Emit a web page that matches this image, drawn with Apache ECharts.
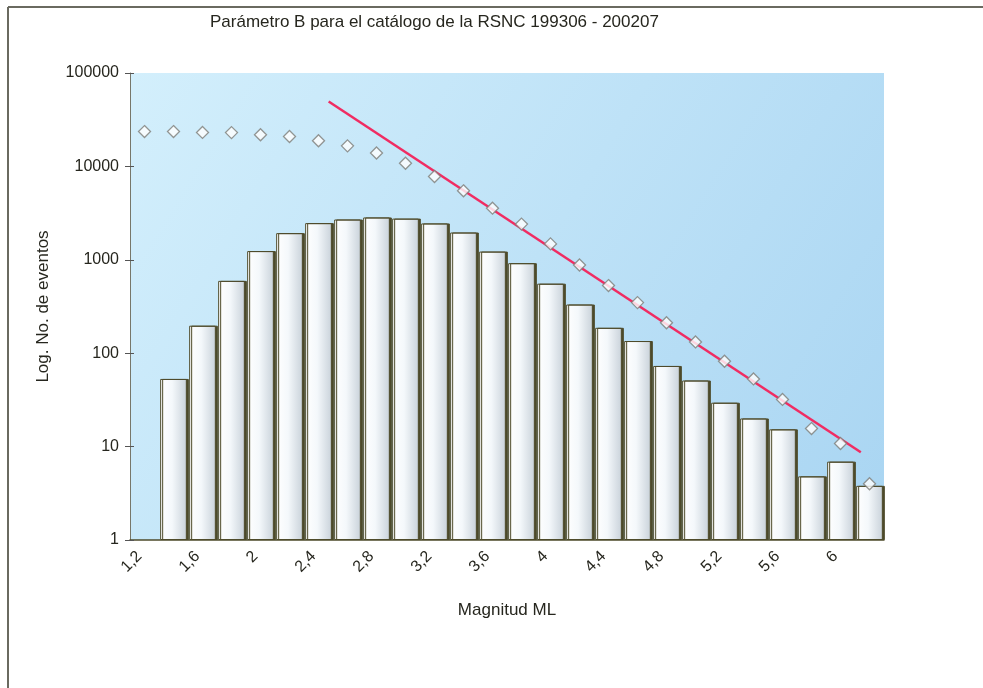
<!DOCTYPE html>
<html>
<head>
<meta charset="utf-8">
<title>Parámetro B</title>
<script src="https://cdn.jsdelivr.net/npm/echarts@6/dist/echarts.min.js"></script>
<style>
  html, body { margin: 0; padding: 0; background: #fff; }
  #chart { width: 983px; height: 688px; }
</style>
</head>
<body>
<div id="chart"></div>
<script>
// magnitudes (categories)
var magnitudes = ['1.2', '1.4', '1.6', '1.8', '2.0', '2.2', '2.4', '2.6', '2.8', '3.0', '3.2', '3.4', '3.6',
    '3.8', '4.0', '4.2', '4.4', '4.6', '4.8', '5.0', '5.2', '5.4', '5.6', '5.8', '6.0', '6.2'];
// eventos por magnitud (barras)
var eventCounts = [null, 53, 197, 595, 1240, 1930, 2470, 2700, 2840, 2760, 2450, 1960, 1225,
    920, 555, 332, 187, 135, 73, 51, 29.5, 20, 15.3, 4.8, 6.9, 3.8];
// acumulado (rombos)
var cumulative = [23600, 23600, 23100, 23000, 21800, 20900, 18800, 16600, 13900, 10800, 7800, 5480, 3570,
    2410, 1480, 880, 530, 348, 212, 132, 82, 53, 32, 15.6, 10.8, 4.0];
// recta de ajuste (Gutenberg-Richter)
var fitMagnitude = [2.47, 6.14];
var fitCount = [49600, 8.7];
var yTicks = [1, 10, 100, 1000, 10000, 100000];

var textColor = '#26261e';
var font = 'Liberation Sans, Arial, sans-serif';

var myChart = echarts.init(document.getElementById('chart'));

var option = {
    animation: false,
    backgroundColor: '#fff',
    title: {
        text: 'Parámetro B para el catálogo de la RSNC 199306 - 200207',
        left: 205,
        top: 9,
        textStyle: { fontFamily: font, fontSize: 17, fontWeight: 'normal', color: textColor }
    },
    graphic: [
        { type: 'line', shape: { x1: 8, y1: 7, x2: 8, y2: 688 }, style: { stroke: '#6a6a60', lineWidth: 2 } },
        { type: 'line', shape: { x1: 8, y1: 7, x2: 983, y2: 7 }, style: { stroke: '#6a6a60', lineWidth: 2 } }
    ],
    grid: {
        left: 130, right: 99, top: 73, bottom: 148,
        show: true,
        borderWidth: 0,
        backgroundColor: new echarts.graphic.LinearGradient(0, 0, 1, 1, [
            { offset: 0, color: '#d3effc' },
            { offset: 1, color: '#a9d5f2' }
        ])
    },
    xAxis: [{
        type: 'category',
        data: magnitudes,
        name: 'Magnitud ML',
        nameLocation: 'middle',
        nameGap: 62,
        nameTextStyle: { fontFamily: font, fontSize: 17, color: textColor },
        axisLine: { lineStyle: { color: '#4e4b2b', width: 1.5 } },
        axisTick: { interval: 0, length: 5, lineStyle: { color: '#4e4b2b' } },
        axisLabel: {
            interval: 1,
            rotate: 45,
            margin: 9,
            padding: [0, 7, 0, 0],
            fontFamily: font,
            fontSize: 16,
            color: textColor,
            formatter: function (v) { return String(parseFloat(v)).replace('.', ','); }
        },
        splitLine: { show: false }
    }, {
        type: 'value',
        min: 1.1,
        max: 6.3,
        show: false
    }],
    yAxis: [{
        type: 'log',
        logBase: 10,
        min: yTicks[0],
        max: yTicks[yTicks.length - 1],
        name: 'Log. No. de eventos',
        nameLocation: 'middle',
        nameGap: 78,
        nameTextStyle: { fontFamily: font, fontSize: 17, color: textColor },
        axisLine: { show: true, lineStyle: { color: '#77776a', width: 1 } },
        axisTick: { show: true, length: 5, lineStyle: { color: '#555' } },
        axisLabel: {
            fontFamily: font, fontSize: 16, color: textColor, margin: 11,
            formatter: function (v) { return String(v); }
        },
        splitLine: { show: false }
    }, {
        // ticks que cruzan el eje hacia dentro
        type: 'log',
        logBase: 10,
        min: yTicks[0],
        max: yTicks[yTicks.length - 1],
        position: 'left',
        axisLine: { show: false },
        axisTick: { show: true, inside: true, length: 4, lineStyle: { color: '#555' } },
        axisLabel: { show: false },
        splitLine: { show: false }
    }],
    series: [{
        name: 'eventos',
        type: 'bar',
        data: eventCounts,
        barCategoryGap: '8%',
        itemStyle: {
            color: new echarts.graphic.LinearGradient(0, 0, 1, 0, [
                { offset: 0, color: '#ffffff' },
                { offset: 0.45, color: '#f4f8fb' },
                { offset: 1, color: '#c9d2da' }
            ]),
            borderColor: '#4e4b2b',
            borderWidth: 1,
            shadowColor: '#4e4b2b',
            shadowOffsetX: 2,
            shadowBlur: 0
        },
        z: 2
    }, {
        name: 'acumulado',
        type: 'scatter',
        data: cumulative,
        symbol: 'diamond',
        symbolSize: 12,
        itemStyle: { color: '#ffffff', borderColor: '#7d7d78', borderWidth: 1.3 },
        z: 4
    }, {
        name: 'ajuste',
        type: 'line',
        xAxisIndex: 1,
        data: [[fitMagnitude[0], fitCount[0]], [fitMagnitude[1], fitCount[1]]],
        showSymbol: false,
        lineStyle: { color: '#f02c62', width: 2.5 },
        z: 3
    }]
};

myChart.setOption(option);
</script>
</body>
</html>
